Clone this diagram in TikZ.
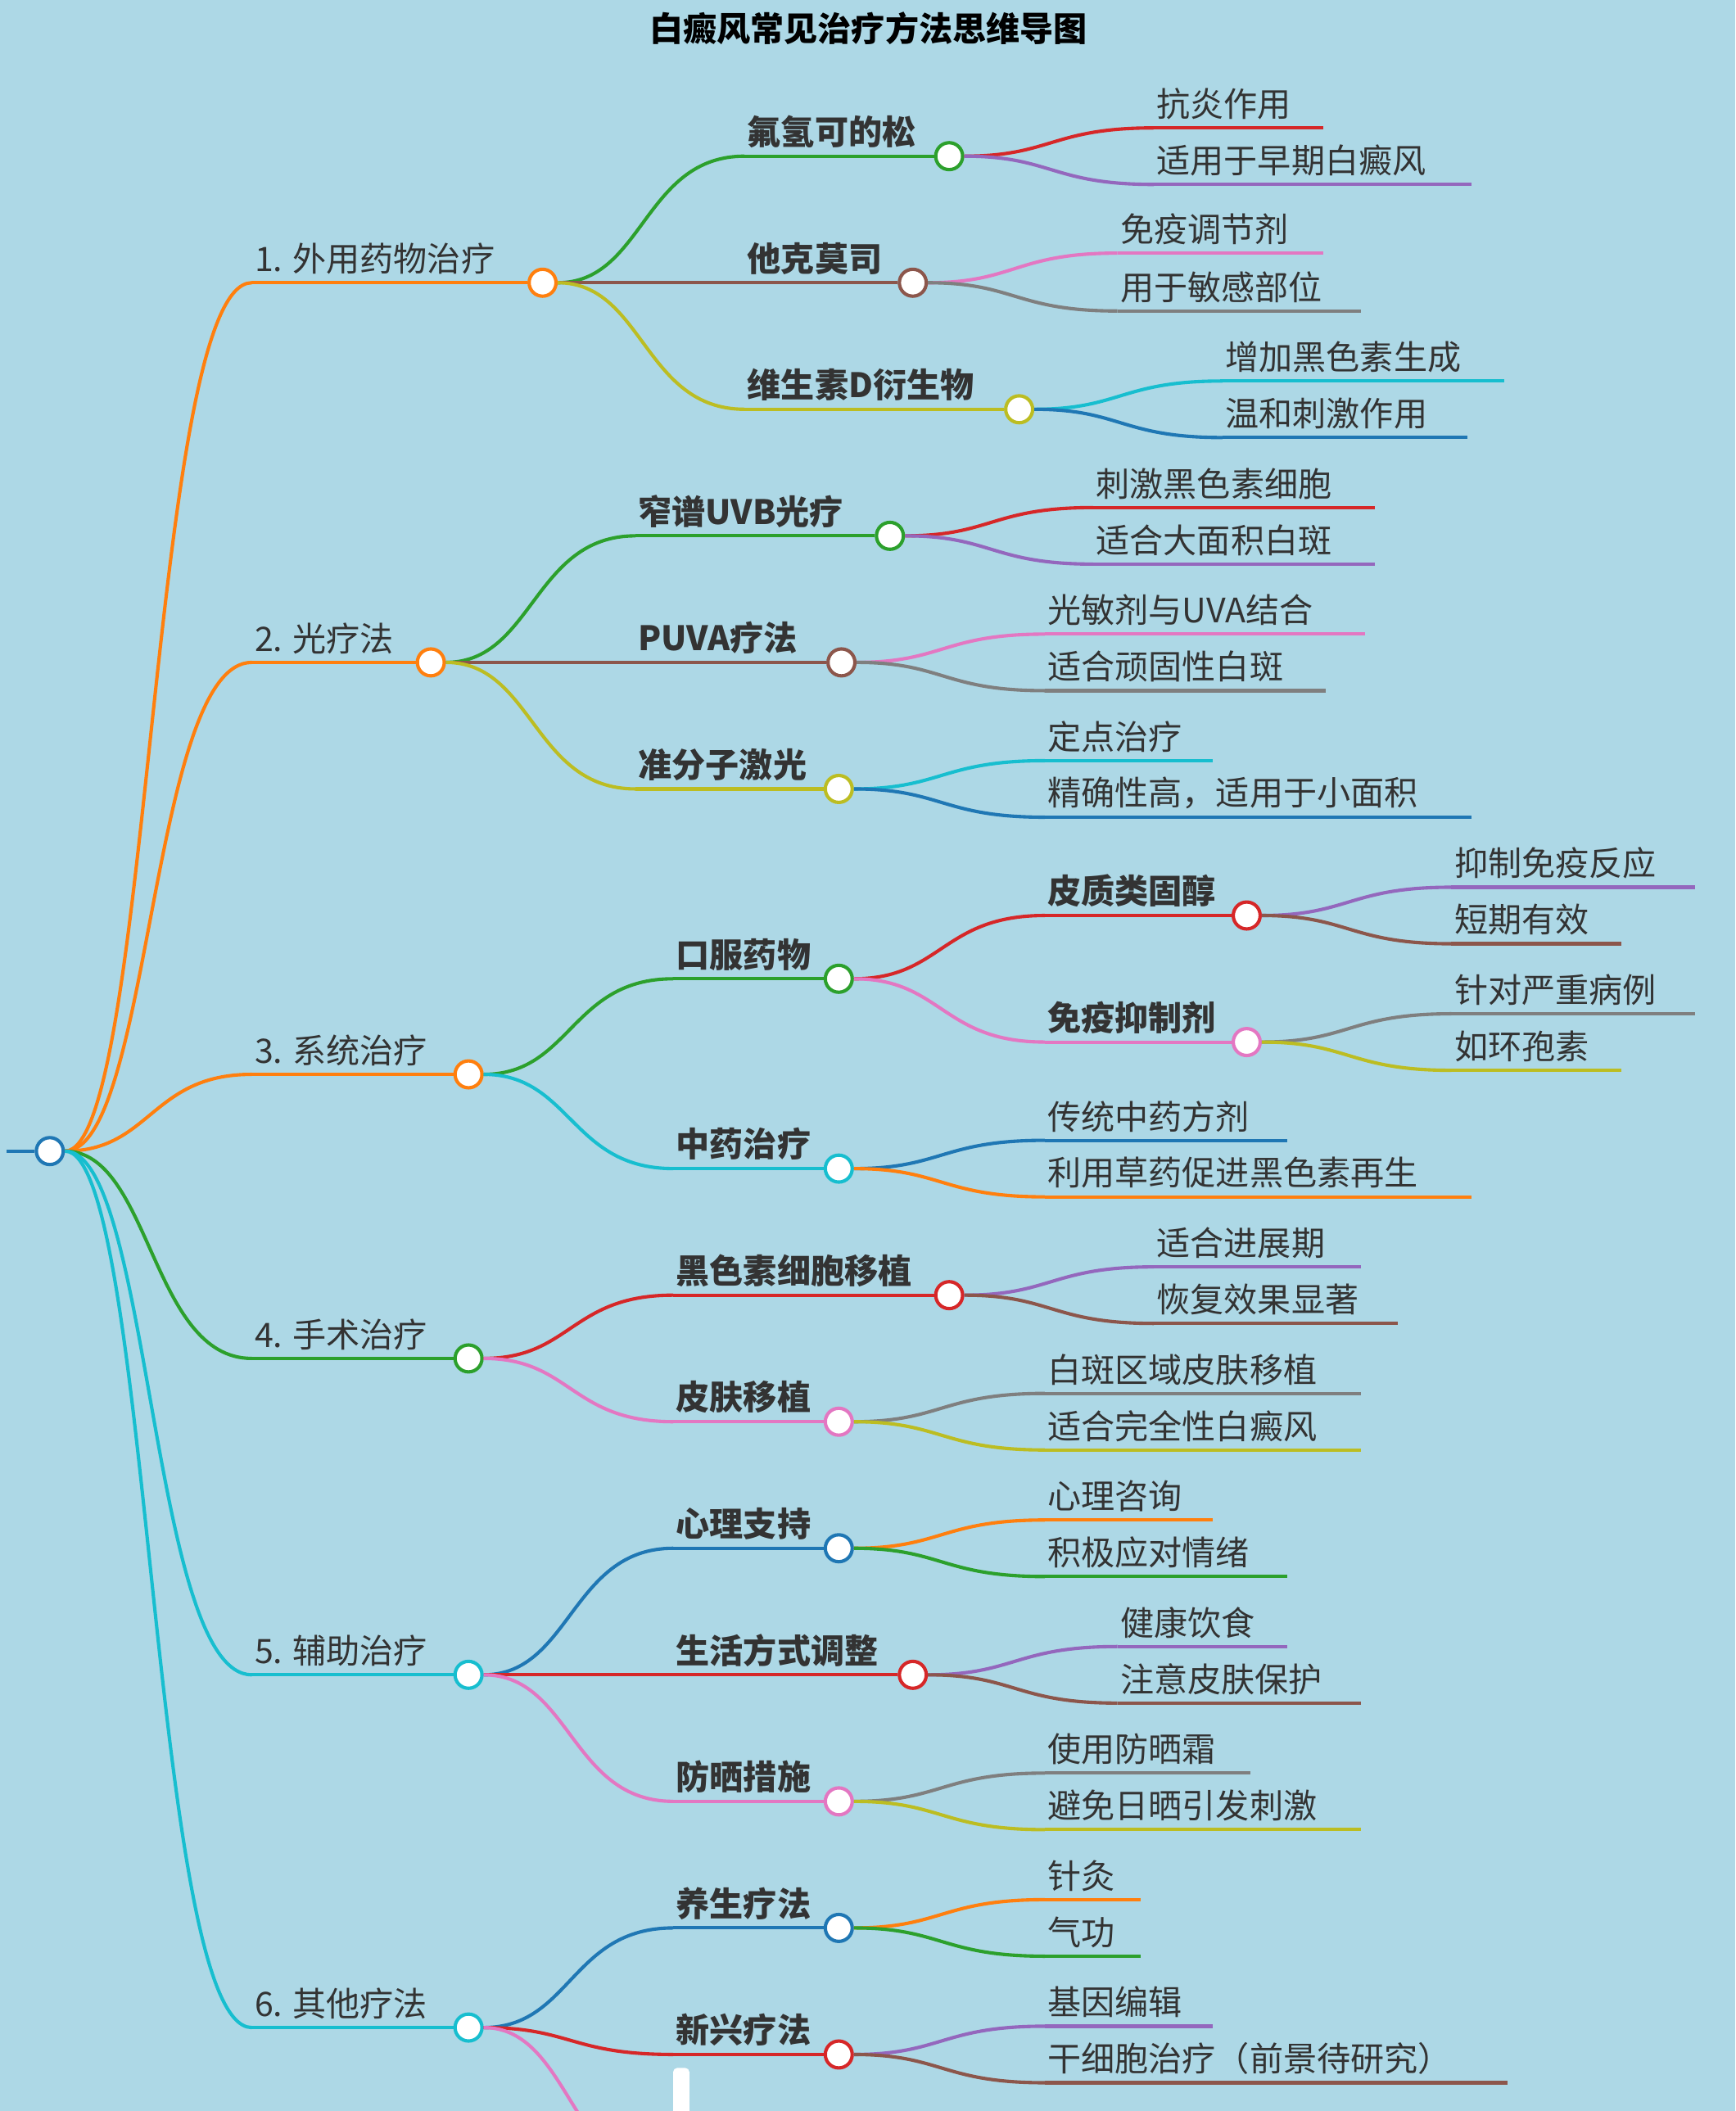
\documentclass[tikz,border=0pt]{standalone}
\usepackage{fontspec}
\setmainfont{Noto Sans CJK SC}
\usetikzlibrary{calc}
\definecolor{bg}{HTML}{ADD8E6}
\definecolor{cO}{HTML}{FF7F0E}\definecolor{cG}{HTML}{2CA02C}\definecolor{cR}{HTML}{D62728}
\definecolor{cP}{HTML}{9467BD}\definecolor{cB}{HTML}{8C564B}\definecolor{cK}{HTML}{E377C2}
\definecolor{cY}{HTML}{7F7F7F}\definecolor{cL}{HTML}{BCBD22}\definecolor{cC}{HTML}{17BECF}
\definecolor{cU}{HTML}{1F77B4}\definecolor{tx}{HTML}{333333}
\tikzset{edge/.style={line width=2.5pt},
 dot/.style={circle,fill=white,line width=2.5pt,minimum size=20pt,inner sep=0pt},
 lab/.style={text=tx,font=\fontsize{25}{28}\selectfont,anchor=south west,inner sep=0pt,yshift=6pt,xshift=2pt}}
\newcommand\mkcurve[3]{%
 \path coordinate (#2m) at ($(#1)!0.5!(#2s)$);
 \draw[edge,#3] (#1) .. controls (#2m |- #1) and (#2m |- #2s) .. (#2s);}
\newcommand\mkinner[7]{% name parent color xs y xc label
 \coordinate (#1s) at (#4,#5);
 \node[dot,draw=#3] (#1) at (#6,#5) {};
 \mkcurve{#2}{#1}{#3}
 \draw[edge,#3] (#1s) -- (#1);
 \node[lab] (#1t) at (#1s) {#7};}
\newcommand\mkleaf[7]{%
 \coordinate (#1s) at (#4,#5);
 \coordinate (#1) at (#6,#5);
 \mkcurve{#2}{#1}{#3}
 \draw[edge,#3] (#1s) -- (#1);
 \node[lab] (#1t) at (#1s) {#7};}
\begin{document}
\begin{tikzpicture}[x=1pt,y=-1pt]
\useasboundingbox (0,0) rectangle (1289,1568);
\fill[bg] (0,0) rectangle (1289,1568);
\clip (0,0) rectangle (1289,1568);
\node[font=\bfseries\fontsize{25}{28}\selectfont,text=black] (title) at (645,21) {白癜风常见治疗方法思维导图};
\node[dot,draw=cU] (r) at (37,855) {};
\coordinate (r0) at (5,855);
\draw[edge,cU] (r0) -- (r);
% 1
\mkinner{a}{r}{cO}{187}{210}{403}{1. 外用药物治疗}
\mkinner{a1}{a}{cG}{553}{116}{705}{\bfseries 氟氢可的松}
\mkleaf{a11}{a1}{cR}{857}{95}{983}{抗炎作用}
\mkleaf{a12}{a1}{cP}{857}{137}{1093}{适用于早期白癜风}
\mkinner{a2}{a}{cB}{553}{210}{678}{\bfseries 他克莫司}
\mkleaf{a21}{a2}{cK}{830}{188}{983}{免疫调节剂}
\mkleaf{a22}{a2}{cY}{830}{231}{1011}{用于敏感部位}
\mkinner{a3}{a}{cL}{553}{304}{757}{\bfseries 维生素D衍生物}
\mkleaf{a31}{a3}{cC}{908}{283}{1117}{增加黑色素生成}
\mkleaf{a32}{a3}{cU}{908}{325}{1090}{温和刺激作用}
% 2
\mkinner{b}{r}{cO}{187}{492}{320}{2. 光疗法}
\mkinner{b1}{b}{cG}{472}{398}{661}{\bfseries 窄谱UVB光疗}
\mkleaf{b11}{b1}{cR}{812}{377}{1021}{刺激黑色素细胞}
\mkleaf{b12}{b1}{cP}{812}{419}{1021}{适合大面积白斑}
\mkinner{b2}{b}{cB}{472}{492}{625}{\bfseries PUVA疗法}
\mkleaf{b21}{b2}{cK}{776}{471}{1014}{光敏剂与UVA结合}
\mkleaf{b22}{b2}{cY}{776}{513}{985}{适合顽固性白斑}
\mkinner{b3}{b}{cL}{472}{586}{623}{\bfseries 准分子激光}
\mkleaf{b31}{b3}{cC}{776}{565}{901}{定点治疗}
\mkleaf{b32}{b3}{cU}{776}{607}{1093}{精确性高，适用于小面积}
% 3
\mkinner{c}{r}{cO}{187}{798}{348}{3. 系统治疗}
\mkinner{c1}{c}{cG}{500}{727}{623}{\bfseries 口服药物}
\mkinner{c11}{c1}{cR}{776}{680}{926}{\bfseries 皮质类固醇}
\mkleaf{c111}{c11}{cP}{1078}{659}{1259}{抑制免疫反应}
\mkleaf{c112}{c11}{cB}{1078}{701}{1204}{短期有效}
\mkinner{c12}{c1}{cK}{776}{774}{926}{\bfseries 免疫抑制剂}
\mkleaf{c121}{c12}{cY}{1078}{753}{1259}{针对严重病例}
\mkleaf{c122}{c12}{cL}{1078}{795}{1204}{如环孢素}
\mkinner{c2}{c}{cC}{500}{868}{623}{\bfseries 中药治疗}
\mkleaf{c21}{c2}{cU}{776}{847}{956}{传统中药方剂}
\mkleaf{c22}{c2}{cO}{776}{889}{1093}{利用草药促进黑色素再生}
% 4
\mkinner{d}{r}{cG}{187}{1009}{348}{4. 手术治疗}
\mkinner{d1}{d}{cR}{500}{962}{705}{\bfseries 黑色素细胞移植}
\mkleaf{d11}{d1}{cP}{857}{941}{1011}{适合进展期}
\mkleaf{d12}{d1}{cB}{857}{983}{1038}{恢复效果显著}
\mkinner{d2}{d}{cK}{500}{1056}{623}{\bfseries 皮肤移植}
\mkleaf{d21}{d2}{cY}{776}{1035}{1011}{白斑区域皮肤移植}
\mkleaf{d22}{d2}{cL}{776}{1077}{1011}{适合完全性白癜风}
% 5
\mkinner{e}{r}{cC}{187}{1244}{348}{5. 辅助治疗}
\mkinner{e1}{e}{cU}{500}{1150}{623}{\bfseries 心理支持}
\mkleaf{e11}{e1}{cO}{776}{1129}{901}{心理咨询}
\mkleaf{e12}{e1}{cG}{776}{1171}{956}{积极应对情绪}
\mkinner{e2}{e}{cR}{500}{1244}{678}{\bfseries 生活方式调整}
\mkleaf{e21}{e2}{cP}{830}{1223}{956}{健康饮食}
\mkleaf{e22}{e2}{cB}{830}{1265}{1011}{注意皮肤保护}
\mkinner{e3}{e}{cK}{500}{1338}{623}{\bfseries 防晒措施}
\mkleaf{e31}{e3}{cY}{776}{1317}{929}{使用防晒霜}
\mkleaf{e32}{e3}{cL}{776}{1359}{1011}{避免日晒引发刺激}
% 6
\mkinner{f}{r}{cC}{187}{1506}{348}{6. 其他疗法}
\mkinner{f1}{f}{cU}{500}{1432}{623}{\bfseries 养生疗法}
\mkleaf{f11}{f1}{cO}{776}{1411}{847}{针灸}
\mkleaf{f12}{f1}{cG}{776}{1453}{847}{气功}
\mkinner{f2}{f}{cR}{500}{1526}{623}{\bfseries 新兴疗法}
\mkleaf{f21}{f2}{cP}{776}{1505}{901}{基因编辑}
\mkleaf{f22}{f2}{cB}{776}{1547}{1120}{干细胞治疗（前景待研究）}
\coordinate (f3s) at (500,1620);
\mkcurve{f}{f3}{cK}
\fill[white,rounded corners=3pt] (500,1536) rectangle (512,1575);
\end{tikzpicture}
\end{document}
